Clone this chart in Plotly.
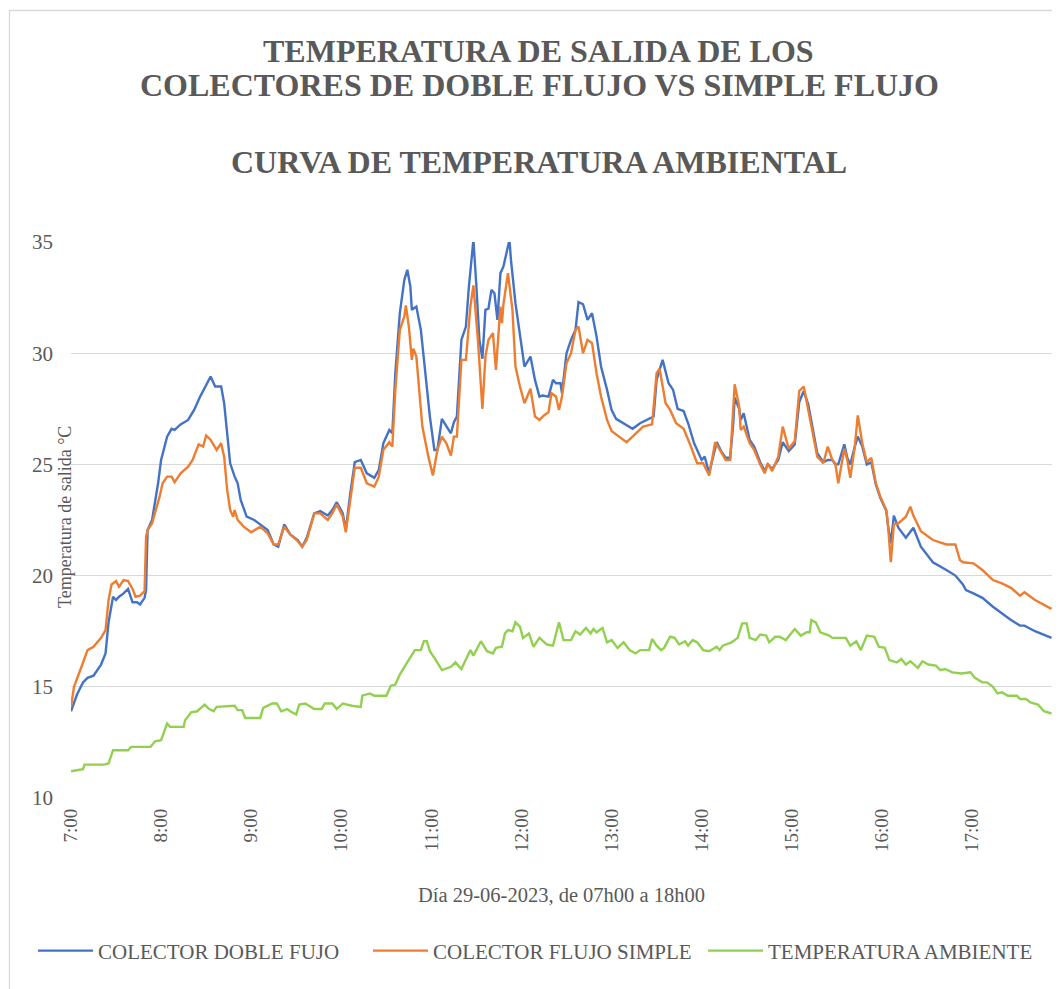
import plotly.graph_objects as go

# ---------------- DATA ----------------
doble_t = ["7:00","7:04","7:08","7:11","7:15","7:18","7:20","7:23","7:25","7:28","7:30","7:32","7:35","7:38","7:41","7:44","7:46","7:49","7:50","7:51","7:54","7:58",
"8:00","8:04","8:07","8:09","8:13","8:18","8:22","8:26","8:31","8:33","8:36","8:40","8:42","8:44","8:46","8:49","8:51","8:53","8:57",
"9:02","9:06","9:11","9:15","9:18","9:22","9:26","9:31","9:34","9:37","9:42","9:46","9:51","9:54","9:57",
"10:01","10:03","10:06","10:09","10:13","10:17","10:22","10:25","10:28","10:32","10:34","10:36","10:39","10:42","10:44","10:46","10:47","10:50","10:53","10:56","10:59",
"11:02","11:04","11:07","11:10","11:13","11:15","11:17","11:20","11:23","11:25","11:28","11:30","11:32","11:34","11:36","11:38","11:40","11:42","11:44","11:46","11:48","11:52","11:53","11:56","11:59",
"12:02","12:06","12:09","12:12","12:14","12:18","12:21","12:23","12:26","12:27","12:30","12:33","12:36","12:38","12:41","12:44","12:47","12:50","12:53","12:57",
"13:00","13:03","13:08","13:14","13:19","13:23","13:28","13:30","13:32","13:34","13:38","13:41","13:44","13:48","13:51","13:55",
"14:00","14:02","14:05","14:09","14:10","14:13","14:16","14:19","14:21","14:22","14:25","14:26","14:28","14:32","14:35","14:39","14:42","14:44","14:47","14:51","14:54","14:56","14:58",
"15:02","15:05","15:08","15:11","15:14","15:17","15:21","15:24","15:27","15:29","15:31","15:35","15:37","15:39","15:42","15:44","15:47","15:50","15:53","15:56","15:59",
"16:03","16:04","16:06","16:08","16:11","16:16","16:19","16:21","16:26","16:34","16:43","16:49","16:54","16:56",
"17:01","17:07","17:14","17:20","17:26","17:32","17:35","17:42","17:51","17:53"]
doble_v = [13.9,14.65,15.2,15.4,15.5,15.8,16.0,16.5,17.9,19.05,18.9,19.05,19.2,19.4,18.8,18.8,18.7,19.0,19.35,22.05,22.5,24.15,
25.2,26.25,26.6,26.55,26.8,27.0,27.45,28.05,28.65,28.95,28.5,28.5,27.75,26.25,25.05,24.45,24.15,23.4,22.65,
22.5,22.3,22.05,21.4,21.3,22.3,21.85,21.6,21.3,21.7,22.8,22.9,22.7,22.95,23.3,
22.8,22.05,23.7,25.1,25.2,24.6,24.4,24.75,25.95,26.55,26.4,29.1,31.8,33.3,33.75,33.0,31.95,32.1,31.05,29.1,27.15,
25.65,25.65,27.05,26.7,26.4,26.9,27.15,30.6,31.2,33.0,35.1,33.0,30.6,29.75,31.95,32.0,32.85,32.7,31.5,33.6,33.9,35.1,34.2,32.25,30.75,
29.4,29.85,28.8,28.05,28.1,28.05,28.8,28.65,28.65,28.2,30.0,30.6,31.05,32.3,32.2,31.5,31.8,30.75,29.4,28.35,
27.45,27.05,26.85,26.6,26.85,27.0,27.15,28.8,29.25,29.7,28.65,28.35,27.5,27.4,26.85,25.95,
25.2,25.35,24.6,25.8,26.0,25.6,25.3,25.3,26.8,28.0,27.5,27.0,27.3,26.1,25.8,25.1,24.7,25.0,24.8,25.2,26.0,25.8,25.6,
25.9,27.8,28.3,27.7,26.6,25.5,25.1,25.2,25.2,25.0,25.0,25.9,25.3,25.0,25.8,26.25,25.8,25.0,25.1,24.1,23.5,
22.9,22.3,21.45,22.7,22.15,21.7,21.95,22.15,21.3,20.6,20.25,20.0,19.6,19.35,
19.2,19.0,18.6,18.3,18.0,17.75,17.75,17.5,17.25,17.2]

simple_t = ["7:00","7:02","7:07","7:11","7:15","7:20","7:23","7:25","7:27","7:30","7:32","7:35","7:38","7:41","7:43","7:46","7:49","7:50","7:51","7:54","7:59",
"8:01","8:04","8:07","8:09","8:13","8:18","8:21","8:25","8:28","8:30","8:33","8:37","8:40","8:42","8:44","8:46","8:48","8:49","8:51","8:55",
"9:00","9:06","9:11","9:15","9:18","9:22","9:26","9:31","9:34","9:37","9:42","9:46","9:51","9:54","9:57",
"10:01","10:03","10:06","10:09","10:13","10:17","10:22","10:25","10:28","10:32","10:34","10:36","10:39","10:42","10:43","10:45","10:47","10:48","10:50","10:54","10:58",
"11:01","11:04","11:07","11:10","11:13","11:15","11:17","11:20","11:23","11:26","11:28","11:31","11:34","11:36","11:38","11:41","11:43","11:46","11:47","11:48","11:51","11:54","11:56","11:59",
"12:02","12:06","12:09","12:12","12:15","12:18","12:20","12:23","12:25","12:27","12:30","12:33","12:36","12:38","12:41","12:44","12:47","12:50","12:53","12:57",
"13:00","13:05","13:10","13:14","13:21","13:27","13:30","13:32","13:36","13:39","13:43","13:48","13:52","13:57",
"14:01","14:05","14:09","14:13","14:16","14:19","14:21","14:22","14:25","14:26","14:28","14:32","14:35","14:39","14:42","14:44","14:47","14:51","14:54","14:56","14:58",
"15:02","15:05","15:08","15:11","15:14","15:17","15:21","15:24","15:27","15:29","15:31","15:35","15:37","15:39","15:42","15:44","15:47","15:50","15:53","15:56","15:59",
"16:03","16:04","16:06","16:08","16:11","16:16","16:19","16:21","16:26","16:34","16:43","16:49","16:52","16:54",
"17:01","17:07","17:14","17:20","17:26","17:32","17:35","17:42","17:51","17:53"]
simple_v = [14.1,15.0,15.9,16.65,16.8,17.2,17.55,18.9,19.6,19.75,19.5,19.8,19.75,19.4,19.05,19.1,19.3,21.75,22.05,22.35,23.55,
24.15,24.45,24.45,24.2,24.6,24.9,25.2,25.9,25.8,26.3,26.1,25.65,25.95,25.35,23.85,22.95,22.65,22.95,22.5,22.2,
21.95,22.2,21.9,21.4,21.4,22.2,21.85,21.55,21.3,21.6,22.8,22.8,22.5,22.8,23.2,
22.65,21.95,23.4,24.85,24.85,24.15,24.0,24.45,25.65,26.0,25.8,28.35,31.05,31.65,32.15,31.2,29.7,30.2,29.85,26.7,25.35,
24.5,25.65,26.25,25.95,25.4,26.25,26.25,29.7,29.7,32.1,33.05,30.6,27.5,29.85,30.6,30.9,29.25,32.1,31.35,32.2,33.6,31.95,29.4,28.5,
27.75,28.4,27.15,27.0,27.2,27.35,28.2,28.05,27.45,28.05,29.55,30.0,31.05,31.2,30.0,30.6,30.45,29.1,28.05,27.0,
26.5,26.25,26.0,26.25,26.7,26.8,29.1,29.3,27.75,27.45,26.85,26.6,25.95,25.05,
25.05,24.5,26.0,25.55,25.2,25.2,27.15,28.6,27.6,26.55,26.7,25.95,25.65,25.0,24.6,25.05,24.7,25.35,26.7,26.25,25.7,
26.05,28.3,28.5,27.45,26.4,25.35,25.05,25.8,25.2,25.05,24.15,25.7,25.2,24.4,25.8,27.2,25.95,25.1,25.3,24.15,23.55,
22.95,22.35,20.6,22.3,22.35,22.65,23.1,22.7,22.0,21.6,21.4,21.4,20.7,20.6,
20.55,20.25,19.8,19.65,19.45,19.1,19.25,18.9,18.6,18.5]

amb_t = ["7:00","7:08","7:09","7:22","7:25","7:28","7:38","7:40","7:53","7:56",
"8:00","8:02","8:04","8:06","8:15","8:16","8:20","8:24","8:29","8:32","8:35","8:37","8:49","8:51","8:54","8:56",
"9:06","9:08","9:14","9:17","9:20","9:24","9:26","9:30","9:32","9:36","9:42","9:47","9:49","9:54","9:57",
"10:01","10:07","10:13","10:14","10:19","10:22","10:30","10:33","10:36","10:39","10:43","10:46","10:49","10:53","10:55","10:57","10:59",
"11:03","11:07","11:13","11:16","11:20","11:26","11:28","11:33","11:37","11:41","11:43","11:47","11:49","11:51","11:54","11:56","11:59",
"12:01","12:05","12:08","12:12","12:17","12:21","12:25","12:28","12:33","12:36","12:39","12:43","12:46","12:48","12:50","12:54","12:57",
"13:00","13:04","13:08","13:12","13:16","13:19","13:25","13:27","13:30","13:33","13:35","13:39","13:42","13:45","13:49","13:51","13:54","13:57",
"14:01","14:05","14:10","14:12","14:14","14:20","14:24","14:27","14:30","14:32","14:36","14:39","14:43","14:45","14:49","14:52","14:56",
"15:00","15:02","15:06","15:10","15:12","15:13","15:16","15:19","15:25","15:27","15:36","15:39","15:43","15:46","15:50","15:55","15:58",
"16:02","16:05","16:10","16:13","16:16","16:19","16:24","16:27","16:31","16:36","16:39","16:42","16:47","16:53","16:59",
"17:02","17:07","17:10","17:14","17:17","17:20","17:24","17:30","17:32","17:36","17:39","17:44","17:48","17:53"]
amb_v = [11.2,11.3,11.5,11.5,11.55,12.15,12.15,12.3,12.3,12.55,
12.6,13.0,13.35,13.2,13.2,13.5,13.85,13.9,14.2,14.0,13.9,14.1,14.15,13.95,13.95,13.6,
13.6,14.05,14.25,14.25,13.9,14.0,13.9,13.75,14.2,14.25,14.0,14.0,14.25,14.25,14.0,
14.25,14.15,14.1,14.6,14.7,14.6,14.6,15.05,15.1,15.55,16.0,16.35,16.65,16.65,17.05,17.05,16.6,
16.2,15.75,15.9,16.1,15.8,16.65,16.4,17.05,16.6,16.5,16.75,16.8,17.4,17.55,17.5,17.9,17.7,
17.2,17.4,16.8,17.2,16.9,16.85,17.9,17.1,17.1,17.5,17.35,17.65,17.4,17.6,17.45,17.65,17.0,
17.1,16.75,17.0,16.65,16.5,16.65,16.65,17.15,16.85,16.65,16.75,17.25,17.2,16.9,17.05,16.85,17.1,17.0,
16.65,16.6,16.8,16.65,16.85,17.0,17.2,17.85,17.85,17.2,17.1,17.35,17.3,17.0,17.25,17.25,17.1,
17.4,17.6,17.3,17.45,17.45,18.0,17.9,17.45,17.3,17.2,17.2,16.85,17.05,16.65,17.3,17.25,16.8,
16.75,16.2,16.1,16.25,16.0,16.15,15.85,16.15,16.0,15.95,15.75,15.8,15.65,15.6,15.65,
15.4,15.2,15.2,15.0,14.7,14.75,14.6,14.6,14.45,14.45,14.3,14.2,13.9,13.8]

series_names = ["COLECTOR DOBLE FUJO", "COLECTOR FLUJO SIMPLE", "TEMPERATURA AMBIENTE"]
tick_hours = list(range(7, 18))
tick_labels = [f"{h}:00" for h in tick_hours]

# ---------------- FIGURE ----------------
def to_h(s):
    h, m = s.split(":")
    return int(h) + int(m) / 60.0

FONT = "Times New Roman, Liberation Serif, serif"
TXT = "#595959"
colors = ["#4472C4", "#ED7D31", "#92D050"]

fig = go.Figure()
for name, ts, vs, c in zip(series_names, [doble_t, simple_t, amb_t], [doble_v, simple_v, amb_v], colors):
    fig.add_trace(go.Scatter(x=[to_h(t) for t in ts], y=vs, mode="lines", name=name,
                             line=dict(color=c, width=2.4)))

# page body margin of the browser (8px) is compensated
OFF = 8
L, R, T, B = 71, 1053, 242, 798          # plot area in screen pixels
W, H = 1060 - OFF, 989 - OFF
def px(x):
    return (x - L) / (R - L)
def py(y):
    return (B - y) / (B - T)

fig.update_layout(
    width=W, height=H,
    margin=dict(l=L - OFF, r=W - (R - OFF), t=T - OFF, b=H - (B - OFF)),
    paper_bgcolor="white", plot_bgcolor="white",
    font=dict(family=FONT, color=TXT, size=19),
    showlegend=True,
    legend=dict(orientation="h", x=px(33), xanchor="left", y=py(951), yanchor="middle",
                font=dict(size=21, color=TXT, family=FONT), itemwidth=55,
                entrywidth=265, entrywidthmode="pixels", tracegroupgap=0),
    xaxis=dict(range=[7.0, 17.9], tickmode="array", tickvals=tick_hours, ticktext=tick_labels,
               tickangle=-90, showgrid=False, zeroline=False, showline=False, ticks="",
               ticklabelstandoff=6, tickfont=dict(size=19, color=TXT, family=FONT)),
    yaxis=dict(range=[10, 35], dtick=5, showgrid=True, gridcolor="#D9D9D9", gridwidth=1.3,
               zeroline=False, showline=False, ticks="", ticklabelstandoff=17,
               tickfont=dict(size=21, color=TXT, family=FONT)),
)

title_font = dict(family=FONT, size=32, color=TXT)
annotations = [
    dict(text="<b>TEMPERATURA DE SALIDA DE LOS</b>", x=px(538), y=py(50.5)),
    dict(text="<b>COLECTORES DE DOBLE FLUJO VS SIMPLE FLUJO</b>", x=px(539), y=py(84.5)),
    dict(text="<b>CURVA DE TEMPERATURA AMBIENTAL</b>", x=px(539), y=py(162)),
]
for a in annotations:
    fig.add_annotation(xref="paper", yref="paper", xanchor="center", yanchor="middle",
                       showarrow=False, font=title_font, **a)

fig.add_annotation(text="Día 29-06-2023, de 07h00 a 18h00", xref="paper", yref="paper",
                   x=px(561), y=py(895), xanchor="center", yanchor="middle", showarrow=False,
                   font=dict(family=FONT, size=20.5, color=TXT))
fig.add_annotation(text="Temperatura de salida °C", xref="paper", yref="paper",
                   x=px(65), y=py(517), xanchor="center", yanchor="middle", showarrow=False,
                   textangle=-90, font=dict(family=FONT, size=18, color=TXT))

fig.add_shape(type="rect", xref="paper", yref="paper", x0=px(9.5), x1=px(1075), y0=py(10.5), y1=py(1010),
              line=dict(color="#D9D9D9", width=1.3), fillcolor="rgba(0,0,0,0)", layer="below")

fig.write_html("out.html")
